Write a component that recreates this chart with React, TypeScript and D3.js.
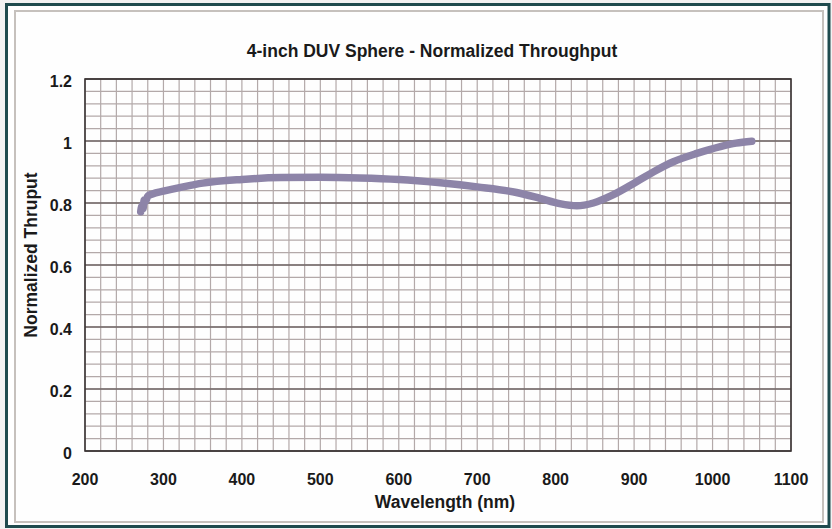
import React from "react";
import * as d3 from "d3";

const wavelengths = [271, 272.5, 274, 275.5, 277, 280, 286, 300, 325, 350, 400, 450, 500, 550, 600, 650, 700, 750, 780, 805, 827, 848, 873, 900, 925, 950, 980, 1010, 1030, 1050];
const throughput = [0.772, 0.79, 0.782, 0.81, 0.805, 0.822, 0.829, 0.838, 0.852, 0.864, 0.876, 0.882, 0.883, 0.881, 0.876, 0.866, 0.852, 0.834, 0.815, 0.798, 0.791, 0.8, 0.826, 0.864, 0.901, 0.933, 0.96, 0.982, 0.993, 0.999];
const xTicks = [200, 300, 400, 500, 600, 700, 800, 900, 1000, 1100];
const yTicks = [0, 0.2, 0.4, 0.6, 0.8, 1, 1.2];
const title = "4-inch DUV Sphere - Normalized Throughput";
const xTitle = "Wavelength (nm)";
const yTitle = "Normalized Thruput";

export default function App() {
  const W = 832, H = 529;
  const left = 85, right = 791, top = 79, bottom = 451;
  const x = d3.scaleLinear().domain([200, 1100]).range([left, right]);
  const y = d3.scaleLinear().domain([0, 1.2]).range([bottom, top]);
  const minorX = d3.range(200, 1100.1, 20);
  const minorY = d3.range(0, 1.2001, 0.04);
  const data = wavelengths.map((w, i) => [w, throughput[i]] as [number, number]);
  const line = d3.line<[number, number]>().x(d => x(d[0])).y(d => y(d[1])).curve(d3.curveMonotoneX);
  const font = "Arial, 'Liberation Sans', sans-serif";
  return (
    <svg width={W} height={H} style={{ position: "absolute", left: 0, top: 0, background: "#f2f2f2" }} fontFamily={font}>
      <rect x={6.5} y={4.5} width={822.5} height={522} fill="#ffffff" stroke="#1f4b4e" strokeWidth={3} />
      <rect x={15} y={11} width={808} height={511} fill="#fefefe" stroke="#c6c1bd" strokeWidth={2} />
      <text x={432} y={57} textAnchor="middle" fontSize={17.5} fontWeight="bold" fill="#1a1a1a">{title}</text>
      <g>
        {minorX.map(v => (
          <line key={"vx" + v} x1={x(v)} x2={x(v)} y1={top} y2={bottom} stroke="#b3a9a9" strokeWidth={1.2} />
        ))}
        {minorY.map((v, i) => (
          <line key={"hy" + i} x1={left} x2={right} y1={y(v)} y2={y(v)} stroke="#b3a9a9" strokeWidth={1.2} />
        ))}
        {yTicks.map(v => (
          <line key={"my" + v} x1={left} x2={right} y1={y(v)} y2={y(v)} stroke="#6e6565" strokeWidth={1.6} />
        ))}
        <rect x={left} y={top} width={right - left} height={bottom - top} fill="none" stroke="#3a3434" strokeWidth={1.6} />
      </g>
      <path d={line(data) ?? ""} fill="none" stroke="#8d84a8" strokeWidth={7.5} strokeLinecap="round" strokeLinejoin="round" />
      {yTicks.map(v => (
        <text key={"yl" + v} x={72} y={y(v) + 8} textAnchor="end" fontSize={16} fontWeight="bold" fill="#1a1a1a">{String(v)}</text>
      ))}
      {xTicks.map(v => (
        <text key={"xl" + v} x={x(v)} y={485} textAnchor="middle" fontSize={16} fontWeight="bold" fill="#1a1a1a">{String(v)}</text>
      ))}
      <text x={445} y={508} textAnchor="middle" fontSize={17.5} fontWeight="bold" fill="#1a1a1a">{xTitle}</text>
      <text transform={`translate(37,255) rotate(-90)`} textAnchor="middle" fontSize={17.5} fontWeight="bold" fill="#1a1a1a">{yTitle}</text>
    </svg>
  );
}
